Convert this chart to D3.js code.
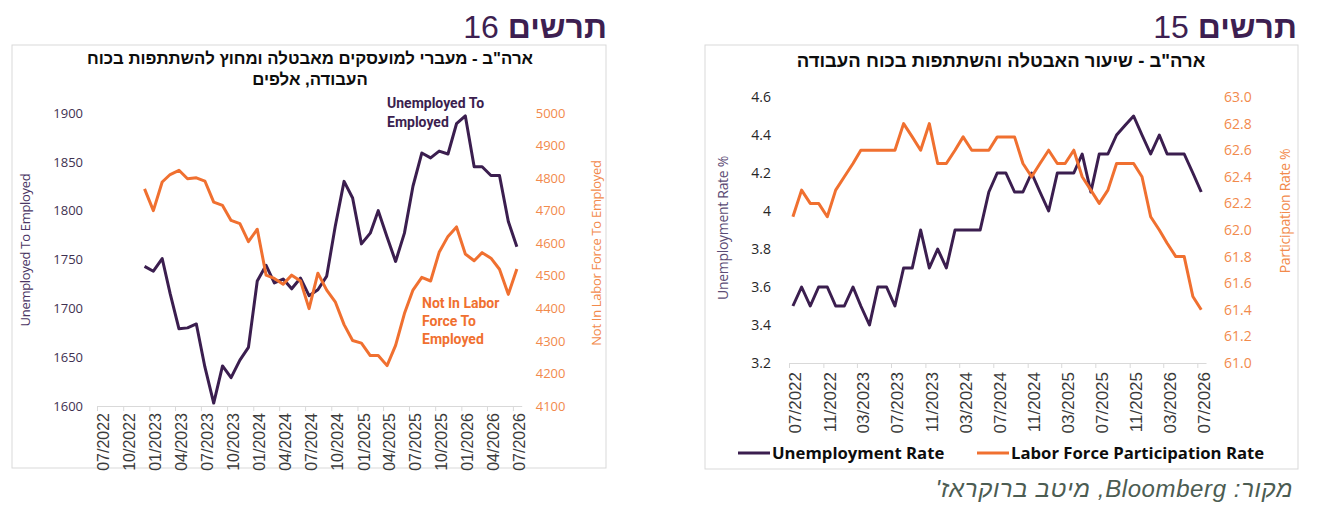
<!DOCTYPE html>
<html>
<head>
<meta charset="utf-8">
<script src="https://cdn.jsdelivr.net/npm/d3@7"></script>
<style>
body{margin:0;background:#fff;}
text{font-family:"Liberation Sans",Arial,sans-serif;}
</style>
</head>
<body>
<svg id="chart" width="1318" height="520"></svg>
<script>
// chart 16: flows into employment, thousands (monthly from 12/2022)
var flowStart = "2022-12";
var unempToEmp = [1743,1738,1751,1715,1679,1680,1684,1640,1603,1641,1629,1647,1660,1728,1744,1726,1730,1720,1731,1713,
    1719,1733,1784,1830,1813,1766,1777,1800,1773,1748,1777,1825,1859,1854,1861,1858,1889,1897,1845,1845,1836,1836,1789,1763];
var nilfToEmp = [4767,4700,4788,4811,4824,4798,4801,4791,4726,4716,4670,4660,4605,4643,4502,4492,4474,4502,4484,4399,
    4508,4456,4420,4350,4301,4293,4255,4255,4224,4286,4384,4456,4495,4484,4572,4621,4650,4567,4546,4571,4554,4520,4443,4521];
var flowTicks = ["07/2022","10/2022","01/2023","04/2023","07/2023","10/2023","01/2024","04/2024","07/2024",
    "10/2024","01/2025","04/2025","07/2025","10/2025","01/2026","04/2026","07/2026"];
var flowLeftTicks = [1600,1650,1700,1750,1800,1850,1900];
var flowRightTicks = [4100,4200,4300,4400,4500,4600,4700,4800,4900,5000];

// chart 15: unemployment rate and participation rate (monthly from 07/2022)
var rateStart = "2022-07";
var unempRate = [3.5,3.6,3.5,3.6,3.6,3.5,3.5,3.6,3.5,3.4,3.6,3.6,3.5,3.7,3.7,3.9,3.7,3.8,3.7,3.9,3.9,3.9,3.9,4.1,4.2,
    4.2,4.1,4.1,4.2,4.1,4.0,4.2,4.2,4.2,4.3,4.1,4.3,4.3,4.4,4.45,4.5,4.4,4.3,4.4,4.3,4.3,4.3,4.2,4.1];
var partRate = [62.1,62.3,62.2,62.2,62.1,62.3,62.4,62.5,62.6,62.6,62.6,62.6,62.6,62.8,62.7,62.6,62.8,62.5,62.5,62.6,62.7,62.6,62.6,62.6,62.7,
    62.7,62.7,62.5,62.4,62.5,62.6,62.5,62.5,62.6,62.4,62.3,62.2,62.3,62.5,62.5,62.5,62.4,62.1,62.0,61.9,61.8,61.8,61.5,61.4];
var rateTicks = ["07/2022","11/2022","03/2023","07/2023","11/2023","03/2024","07/2024","11/2024",
    "03/2025","07/2025","11/2025","03/2026","07/2026"];
var rateLeftTicks = [3.2,3.4,3.6,3.8,4.0,4.2,4.4,4.6];
var rateRightTicks = [61.0,61.2,61.4,61.6,61.8,62.0,62.2,62.4,62.6,62.8,63.0];

var purple = "#3b1e4f";
var orange = "#f07030";
var orangeText = "#f28a4c";
var parseMonth = d3.timeParse("%Y-%m");
var parseTick = d3.timeParse("%m/%Y");

var svg = d3.select("#chart");

function toSeries(start, vals){
    var s = parseMonth(start);
    return vals.map(function(v, i){
        // excel puts the point mid month
        return {date: d3.timeDay.offset(d3.timeMonth.offset(s, i), 14), v: v};
    });
}

function header(xr, num){
    var t = svg.append("text")
        .attr("x", xr).attr("y", 38)
        .attr("direction", "rtl").attr("text-anchor", "start")
        .style("font-size", "32px").attr("fill", "#3d1f51");
    t.append("tspan").attr("font-weight", "bold").text("תרשים");
    t.append("tspan").text(" " + num);
}

function drawPanel(p){
    var g = svg.append("g");
    g.append("rect")
        .attr("x", p.box[0]).attr("y", p.box[1])
        .attr("width", p.box[2]).attr("height", p.box[3])
        .attr("fill", "none").attr("stroke", "#d9d9d9");

    // titles
    p.title.forEach(function(line, i){
        g.append("text")
            .attr("x", p.titleX).attr("y", p.titleY + i*21)
            .attr("direction", "rtl").attr("text-anchor", "middle")
            .attr("font-weight", "bold").style("font-size", p.titleFont + "px")
            .attr("fill", "#0d0d0d")
            .text(line);
    });

    var tickDates = p.ticks.map(parseTick);
    var last = d3.timeMonth.offset(tickDates[tickDates.length-1], 1);
    var x = d3.scaleTime().domain([tickDates[0], last]).range([p.x0, p.x1]);
    var yL = d3.scaleLinear().domain(d3.extent(p.leftTicks)).range([p.yBottom, p.yTop]);
    var yR = d3.scaleLinear().domain(d3.extent(p.rightTicks)).range([p.yBottom, p.yTop]);

    // x axis
    var xa = g.append("g")
        .attr("transform", "translate(0," + p.yBottom + ")")
        .call(d3.axisBottom(x).tickValues(tickDates).tickFormat(d3.timeFormat("%m/%Y"))
            .tickSize(5).tickSizeOuter(0));
    xa.select(".domain").attr("stroke", "#d9d9d9");
    xa.selectAll(".tick line").attr("stroke", "#d9d9d9");
    xa.selectAll("text")
        .attr("transform", "rotate(-90)")
        .attr("text-anchor", "end")
        .attr("x", -p.labelGap).attr("y", 6).attr("dy", "0.35em")
        .attr("fill", "#3a3a3a")
        .style("font-family", "'Liberation Sans Narrow','Arial Narrow',sans-serif")
        .style("font-size", p.xFont + "px");

    // y axes
    var la = g.append("g")
        .attr("transform", "translate(" + p.x0 + ",0)")
        .call(d3.axisLeft(yL).tickValues(p.leftTicks).tickSize(0).tickPadding(p.yPad).tickFormat(p.leftFmt));
    la.select(".domain").remove();
    la.selectAll("text").attr("fill", p.leftColor)
        .style("font-family", "'Open Sans',sans-serif").style("font-size", p.yFont + "px");

    var ra = g.append("g")
        .attr("transform", "translate(" + p.x1 + ",0)")
        .call(d3.axisRight(yR).tickValues(p.rightTicks).tickSize(0).tickPadding(p.yPad).tickFormat(p.rightFmt));
    ra.select(".domain").remove();
    ra.selectAll("text").attr("fill", orangeText)
        .style("font-family", "'Open Sans',sans-serif").style("font-size", p.yFont + "px");

    // axis titles
    g.append("text")
        .attr("transform", "translate(" + p.leftTitle[0] + "," + p.leftTitle[1] + ") rotate(-90)")
        .attr("text-anchor", "middle").attr("dy", "0.35em")
        .attr("fill", p.leftTitleColor)
        .style("font-family", "'Open Sans',sans-serif").style("font-size", p.axisTitleFont + "px")
        .style("letter-spacing", "-0.3px")
        .text(p.leftTitle[2]);
    g.append("text")
        .attr("transform", "translate(" + p.rightTitle[0] + "," + p.rightTitle[1] + ") rotate(-90)")
        .attr("text-anchor", "middle").attr("dy", "0.35em")
        .attr("fill", orangeText)
        .style("font-family", "'Open Sans',sans-serif").style("font-size", p.axisTitleFont + "px")
        .style("letter-spacing", "-0.3px")
        .text(p.rightTitle[2]);

    // lines, right axis series on top like excel
    var lineL = d3.line().x(function(d){ return x(d.date); }).y(function(d){ return yL(d.v); });
    var lineR = d3.line().x(function(d){ return x(d.date); }).y(function(d){ return yR(d.v); });
    g.append("path").datum(p.leftSeries).attr("d", lineL)
        .attr("fill", "none").attr("stroke", purple).attr("stroke-width", 3).attr("stroke-linejoin", "round");
    g.append("path").datum(p.rightSeries).attr("d", lineR)
        .attr("fill", "none").attr("stroke", orange).attr("stroke-width", 3).attr("stroke-linejoin", "round");
    return g;
}

header(607, "16");
header(1297, "15");

var flowG = drawPanel({
    box: [12, 45, 594, 423],
    title: ["ארה\"ב - מעברי למועסקים מאבטלה ומחוץ להשתתפות בכוח", "העבודה, אלפים"],
    titleX: 310, titleY: 64, titleFont: 16.8,
    ticks: flowTicks, x0: 97, x1: 521.7,
    yTop: 113, yBottom: 406,
    leftTicks: flowLeftTicks, rightTicks: flowRightTicks,
    leftFmt: d3.format("d"), rightFmt: d3.format("d"),
    leftColor: "#3f3151", leftTitleColor: "#4a3563",
    yPad: 14, yFont: 13, xFont: 16, labelGap: 7, axisTitleFont: 13,
    leftTitle: [25, 250, "Unemployed To Employed"],
    rightTitle: [596, 253, "Not In Labor Force To Employed"],
    leftSeries: toSeries(flowStart, unempToEmp),
    rightSeries: toSeries(flowStart, nilfToEmp)
});

// in-chart series labels
[["Unemployed To", 108], ["Employed", 127]].forEach(function(l){
    flowG.append("text").attr("x", 387).attr("y", l[1])
        .attr("font-weight", "bold").style("font-family", "Roboto,sans-serif").style("font-size", "14px")
        .attr("fill", purple).text(l[0]);
});
[["Not In Labor", 308], ["Force To", 326], ["Employed", 344]].forEach(function(l){
    flowG.append("text").attr("x", 422).attr("y", l[1])
        .attr("font-weight", "bold").style("font-family", "Roboto,sans-serif").style("font-size", "14px")
        .attr("fill", orange).text(l[0]);
});

var rateG = drawPanel({
    box: [705, 45, 593, 424],
    title: ["ארה\"ב - שיעור האבטלה והשתתפות בכוח העבודה"],
    titleX: 1001, titleY: 67, titleFont: 18.5,
    ticks: rateTicks, x0: 789, x1: 1206,
    yTop: 97, yBottom: 363,
    leftTicks: rateLeftTicks, rightTicks: rateRightTicks,
    leftFmt: function(d){ return String(+d.toFixed(1)); },
    rightFmt: d3.format(".1f"),
    leftColor: "#262626", leftTitleColor: "#5c4c75",
    yPad: 18, yFont: 14, xFont: 17, labelGap: 9, axisTitleFont: 14,
    leftTitle: [723, 228, "Unemployment Rate %"],
    rightTitle: [1285, 211, "Participation Rate %"],
    leftSeries: toSeries(rateStart, unempRate),
    rightSeries: toSeries(rateStart, partRate)
});

// legend
var legend = [["Unemployment Rate", purple, 738], ["Labor Force Participation Rate", orange, 977]];
legend.forEach(function(l){
    rateG.append("line").attr("x1", l[2]).attr("x2", l[2] + 32).attr("y1", 453).attr("y2", 453)
        .attr("stroke", l[1]).attr("stroke-width", 3);
    rateG.append("text").attr("x", l[2] + 34).attr("y", 458.5)
        .attr("font-weight", "bold").style("font-family", "'Open Sans',sans-serif").style("font-size", "16.7px")
        .attr("fill", "#0d0d0d").text(l[0]);
});

// source line
svg.append("text")
    .attr("x", 1293).attr("y", 497)
    .attr("direction", "rtl").attr("text-anchor", "start")
    .style("font-size", "24px").style("font-style", "italic").style("letter-spacing", "0.6px")
    .attr("fill", "#4c5c52")
    .text("מקור: Bloomberg, מיטב ברוקראז'");
</script>
</body>
</html>
